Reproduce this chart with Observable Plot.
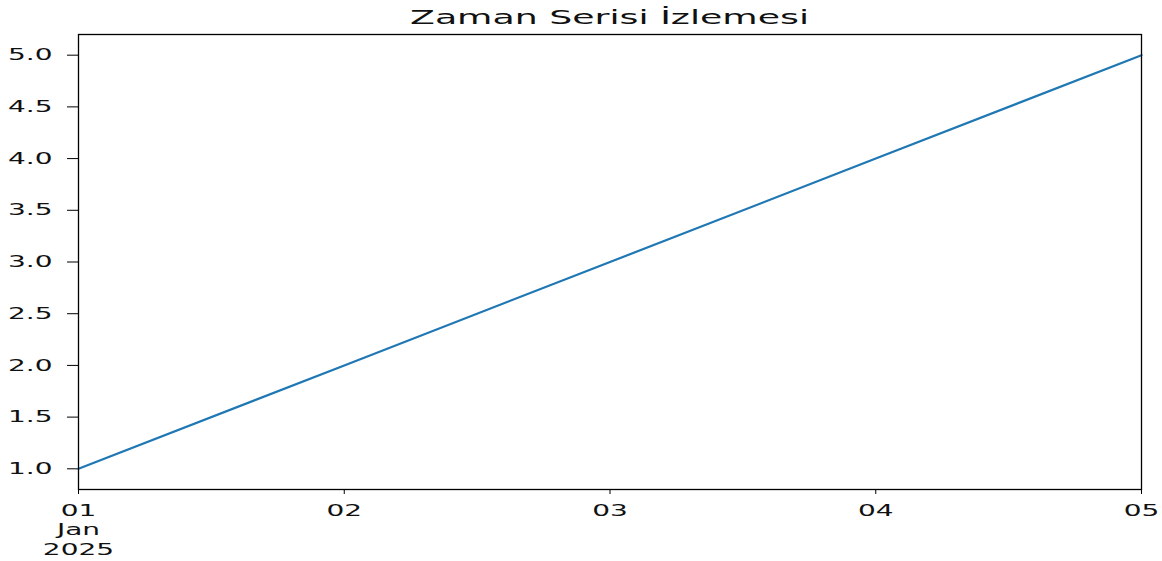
<!DOCTYPE html>
<html>
<head>
<meta charset="utf-8">
<script src="https://cdn.jsdelivr.net/npm/d3@7"></script>
<script src="https://cdn.jsdelivr.net/npm/@observablehq/plot@0.6"></script>
<style>
  html, body { margin: 0; padding: 0; background: #fff; }
  #wrap { position: relative; width: 1162px; height: 561px; overflow: hidden; }
  #title {
    position: absolute; top: 8px; left: 78px; width: 1063px;
    text-align: center; font-family: "DejaVu Sans", sans-serif;
    font-size: 19px; line-height: 19px; color: #111;
    transform: scaleX(1.91); transform-origin: 50% 50%;
    white-space: nowrap;
  }
</style>
</head>
<body>
<div id="wrap"><div id="title">Zaman Serisi İzlemesi</div></div>
<script>
const titleText = "Zaman Serisi İzlemesi";
const dates = ["2025-01-01", "2025-01-02", "2025-01-03", "2025-01-04", "2025-01-05"];
const values = [1, 2, 3, 4, 5];
const xTickLabels = ["01\nJan\n2025", "02", "03", "04", "05"];
const yTicks = [1.0, 1.5, 2.0, 2.5, 3.0, 3.5, 4.0, 4.5, 5.0];
const yDomain = [0.8, 5.2];

const parsed = dates.map(d => new Date(d + "T00:00:00Z"));
const data = parsed.map((d, i) => ({date: d, value: values[i]}));
const labelMap = new Map(parsed.map((d, i) => [+d, xTickLabels[i]]));

const TEXT_STRETCH = 1.75;

const chart = Plot.plot({
  width: 1162,
  height: 561,
  marginLeft: 78,
  marginRight: 21,
  marginTop: 34,
  marginBottom: 72,
  style: {fontFamily: "DejaVu Sans, sans-serif", fontSize: "16px", color: "#111", background: "#fff"},
  x: {type: "utc", domain: [parsed[0], parsed[parsed.length - 1]]},
  y: {domain: yDomain},
  marks: [
    Plot.axisX({
      ticks: parsed, tickSize: 5, tickPadding: 8,
      tickFormat: d => labelMap.get(+d), label: null,
      lineHeight: 1.2, stroke: "#000", fill: "#111", fontSize: 16
    }),
    Plot.axisY({
      ticks: yTicks, tickSize: 11, tickPadding: 15,
      tickFormat: d3.format(".1f"), label: null,
      stroke: "#000", fill: "#111", fontSize: 16
    }),
    Plot.line(data, {x: "date", y: "value", stroke: "#1f77b4", strokeWidth: 2.2}),
    Plot.frame({stroke: "#000", strokeWidth: 1.3})
  ]
});

chart.querySelectorAll("text").forEach(t => {
  const x = +(t.getAttribute("x") || 0);
  const tr = t.getAttribute("transform") || "";
  t.setAttribute("transform", `${tr} translate(${x},0) scale(${TEXT_STRETCH},1) translate(${-x},0)`);
});

chart.style.position = "absolute";
chart.style.left = "0";
chart.style.top = "0";
document.getElementById("wrap").prepend(chart);
</script>
</body>
</html>
